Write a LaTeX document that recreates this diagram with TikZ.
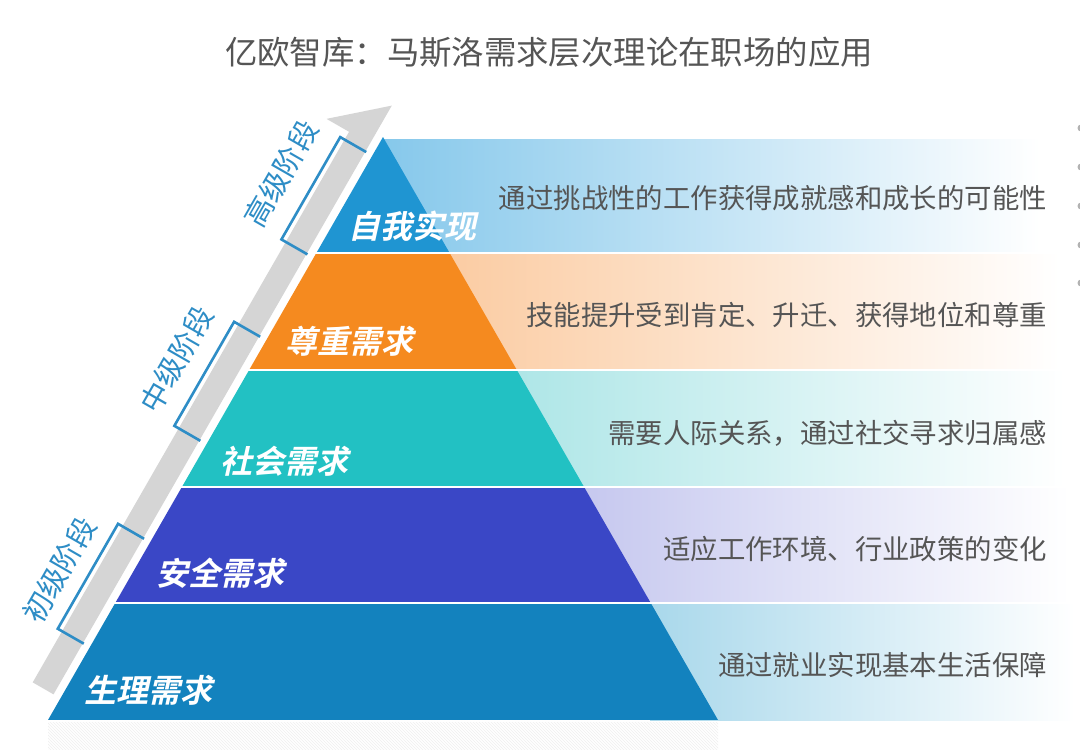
\documentclass[tikz,border=0pt]{standalone}
\usepackage{fontspec}
\usetikzlibrary{patterns}
\newfontfamily\cjk{Noto Sans CJK SC}
\newfontfamily\cjkbi{Noto Sans CJK SC Bold}[FakeSlant=0.22]
\definecolor{tierA}{HTML}{1F95D2}
\definecolor{tierB}{HTML}{F58A1F}
\definecolor{tierC}{HTML}{22C1C3}
\definecolor{tierD}{HTML}{3A47C6}
\definecolor{tierE}{HTML}{1382BE}
\definecolor{bandA}{HTML}{86C8EB}
\definecolor{bandB}{HTML}{FBCCA3}
\definecolor{bandC}{HTML}{AEE6E7}
\definecolor{bandD}{HTML}{C6C8EF}
\definecolor{bandE}{HTML}{A9D8EB}
\definecolor{arrowgray}{HTML}{D5D5D5}
\definecolor{brblue}{HTML}{2E8DC6}
\definecolor{txtgray}{HTML}{555555}
\tikzset{
  tierlabel/.style={anchor=west, text=white, font=\cjkbi\fontsize{32}{37}\selectfont, inner sep=0pt},
  desc/.style={anchor=east, text=txtgray, font=\cjk\fontsize{27.4}{32}\selectfont, inner sep=0pt},
  stagelabel/.style={text=brblue, font=\cjk\fontsize{29}{34}\selectfont, inner sep=0pt, rotate=60.12},
  bracketline/.style={draw=brblue, line width=2.6pt, line join=miter},
  sepline/.style={draw=white, line width=2.5pt},
}
\begin{document}
\begin{tikzpicture}[x=1pt,y=-1pt]
\useasboundingbox (0,0) rectangle (1080,750);
\fill[white] (0,0) rectangle (1080,750);
% title
\node[text=txtgray, font=\cjk\fontsize{32.4}{37}\selectfont, inner sep=0pt] (title) at (549,52) {亿欧智库：马斯洛需求层次理论在职场的应用};
% gradient bands on the right
\shade[left color=bandA, right color=white] (383,139) rectangle (1040,253);
\shade[left color=bandB, right color=white] (449,253) rectangle (1060,370);
\shade[left color=bandC, right color=white] (516,370) rectangle (1065,487);
\shade[left color=bandD, right color=white] (584,487) rectangle (1070,603);
\shade[left color=bandE, right color=white] (650,603) rectangle (1075,720);
% reflection below the pyramid
\fill[pattern=north west lines, pattern color=black!6] (48,722) rectangle (718,750);
% pyramid
\coordinate (BL) at (48,720);
\coordinate (BR) at (718,720);
\coordinate (AP) at (383,137);
\begin{scope}
\clip (BL) -- (AP) -- (BR) -- cycle;
\fill[tierA] (0,130) rectangle (1080,253);
\fill[tierB] (0,253) rectangle (1080,370);
\fill[tierC] (0,370) rectangle (1080,487);
\fill[tierD] (0,487) rectangle (1080,603);
\fill[tierE] (0,603) rectangle (1080,720);
\end{scope}
% separators
\draw[sepline] (315,253) -- (1080,253);
\draw[sepline] (248,370) -- (1080,370);
\draw[sepline] (181,487) -- (1080,487);
\draw[sepline] (114,603) -- (1080,603);
% tier labels
\node[tierlabel] (t1) at (348,226) {自我实现};
\node[tierlabel] (t2) at (285,341) {尊重需求};
\node[tierlabel] (t3) at (220,461) {社会需求};
\node[tierlabel] (t4) at (156,573) {安全需求};
\node[tierlabel] (t5) at (84,690) {生理需求};
% descriptions
\node[desc] (d1) at (1047,198) {通过挑战性的工作获得成就感和成长的可能性};
\node[desc] (d2) at (1047,315) {技能提升受到肯定、升迁、获得地位和尊重};
\node[desc] (d3) at (1047,433) {需要人际关系，通过社交寻求归属感};
\node[desc] (d4) at (1047,549) {适应工作环境、行业政策的变化};
\node[desc] (d5) at (1047,665) {通过就业实现基本生活保障};
% gray arrow, brackets and stage labels along the left side
\begin{scope}[shift={(48,720)}, rotate=60.12, x=1pt, y=1pt]
\fill[arrowgray] (25,8) -- (704,8) -- (660,58) -- (660,32) -- (25,32) -- cycle;
\draw[bracketline] (651,7) -- (651,37) -- (533,37) -- (533,7);
\draw[bracketline] (438,7) -- (438,37) -- (318,37) -- (318,7);
\draw[bracketline] (205,7) -- (205,37) -- (84,37) -- (84,7);
\node[stagelabel] (s1) at (590,70) {高级阶段};
\node[stagelabel] (s2) at (377,68) {中级阶段};
\node[stagelabel] (s3) at (136,65) {初级阶段};
\end{scope}
% cut-off bullets at the right edge
\foreach \yy in {128,167,206,245,283}
  \fill[black!30] (1081,\yy) circle (3.5);
\end{tikzpicture}
\end{document}
